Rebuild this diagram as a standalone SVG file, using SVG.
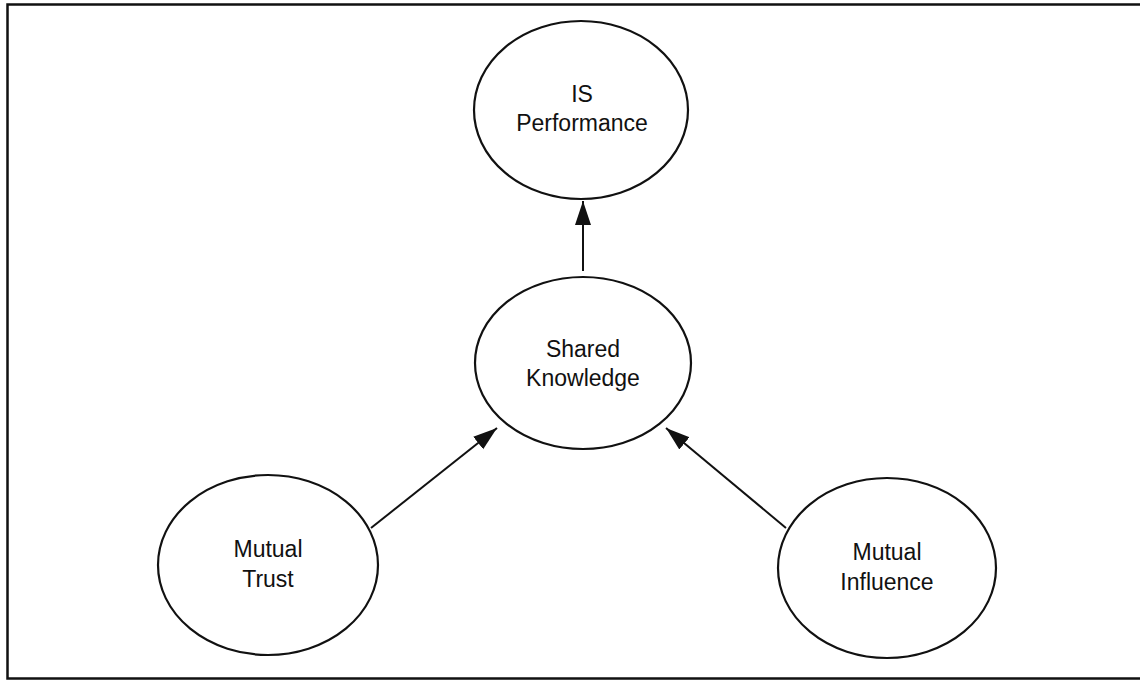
<svg xmlns="http://www.w3.org/2000/svg" width="1140" height="680" viewBox="0 0 1140 680">
<style>
.frame{fill:none;stroke:#111;stroke-width:2.5}
.node{fill:#fff;stroke:#111;stroke-width:2.2}
.lbl{font-family:"Liberation Sans",Arial,sans-serif;font-size:23px;fill:#111;text-anchor:middle}
.edge{stroke:#111;stroke-width:2;fill:none;marker-end:url(#arr)}
</style>
<defs>
<marker id="arr" markerUnits="userSpaceOnUse" markerWidth="26" markerHeight="17" refX="24" refY="8" orient="auto">
<path d="M0,0 L24,8 L0,16 z" fill="#111"/>
</marker>
</defs>
<rect class="frame" x="7.5" y="4.5" width="1150" height="674"/>
<g id="connectors">
<line class="edge" x1="583" y1="271" x2="583" y2="201"/>
<line class="edge" x1="371" y1="528" x2="497" y2="428"/>
<line class="edge" x1="786" y1="528" x2="666" y2="428"/>
</g>
<g id="is-performance">
<ellipse class="node" cx="581" cy="110" rx="107" ry="89"/>
<text class="lbl" x="582" y="102">IS</text>
<text class="lbl" x="582" y="131">Performance</text>
</g>
<g id="shared-knowledge">
<ellipse class="node" cx="583" cy="363" rx="108" ry="86"/>
<text class="lbl" x="583" y="357">Shared</text>
<text class="lbl" x="583" y="386">Knowledge</text>
</g>
<g id="mutual-trust">
<ellipse class="node" cx="268" cy="565" rx="110" ry="90"/>
<text class="lbl" x="268" y="557">Mutual</text>
<text class="lbl" x="268" y="587">Trust</text>
</g>
<g id="mutual-influence">
<ellipse class="node" cx="887" cy="568" rx="109" ry="90"/>
<text class="lbl" x="887" y="560">Mutual</text>
<text class="lbl" x="887" y="590">Influence</text>
</g>
</svg>
